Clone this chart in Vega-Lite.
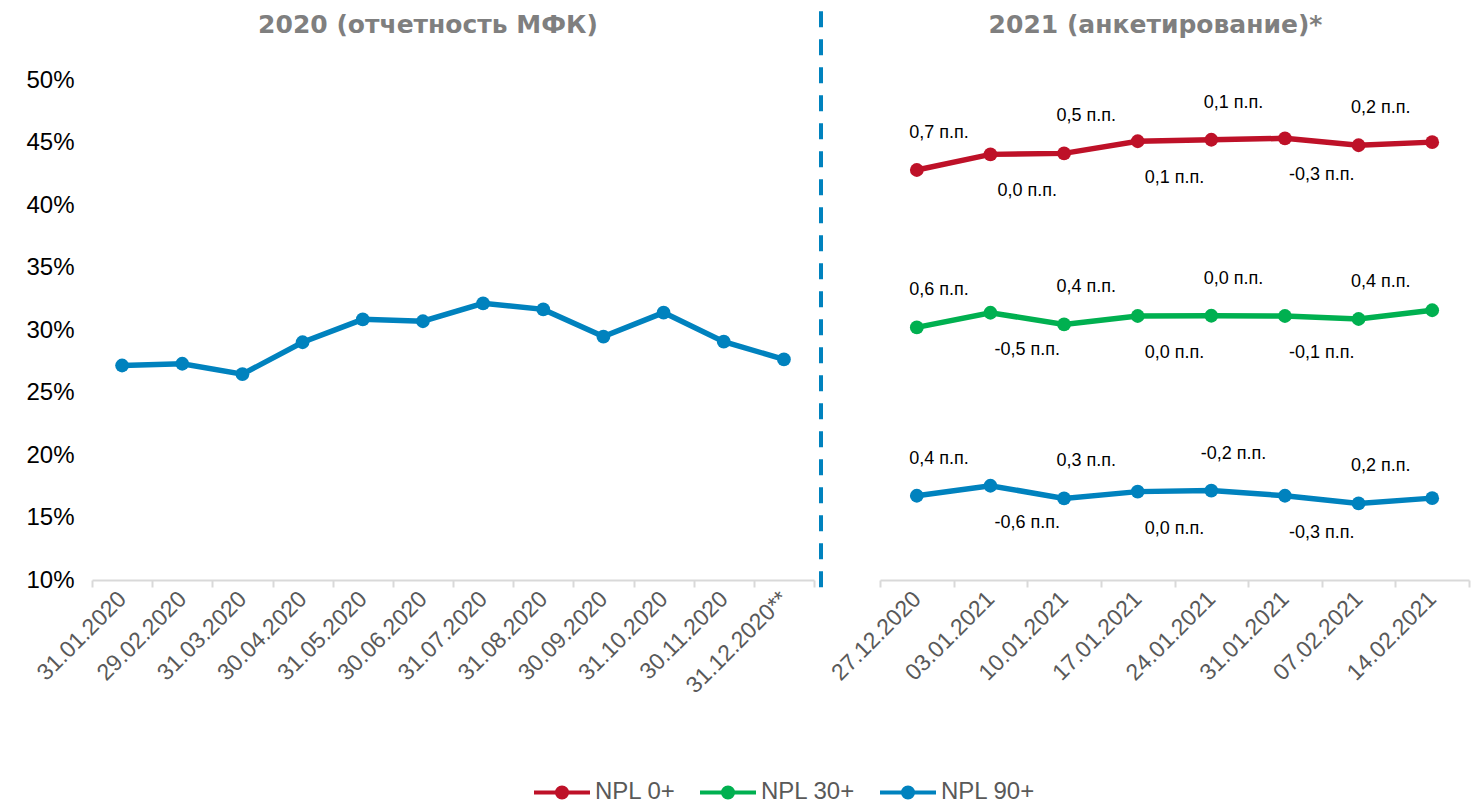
{
  "$schema": "https://vega.github.io/schema/vega-lite/v6.json",
  "background": "white",
  "padding": {"left": 25, "top": 9, "right": 3, "bottom": 5},
  "config": {
    "view": {"stroke": null},
    "font": "Liberation Sans",
    "axis": {"grid": false, "title": null},
    "concat": {"spacing": 4},
    "title": {"fontSize": 25, "fontWeight": "bold", "color": "#7f7f7f", "font": "DejaVu Sans", "anchor": "middle", "baseline": "alphabetic"}
  },
  "datasets": {
    "y2020": [
      {"d": "31.01.2020", "s": "NPL 90+", "v": 0.2716},
      {"d": "29.02.2020", "s": "NPL 90+", "v": 0.2730},
      {"d": "31.03.2020", "s": "NPL 90+", "v": 0.2647},
      {"d": "30.04.2020", "s": "NPL 90+", "v": 0.2902},
      {"d": "31.05.2020", "s": "NPL 90+", "v": 0.3085},
      {"d": "30.06.2020", "s": "NPL 90+", "v": 0.3070},
      {"d": "31.07.2020", "s": "NPL 90+", "v": 0.3213},
      {"d": "31.08.2020", "s": "NPL 90+", "v": 0.3165},
      {"d": "30.09.2020", "s": "NPL 90+", "v": 0.2947},
      {"d": "31.10.2020", "s": "NPL 90+", "v": 0.3139},
      {"d": "30.11.2020", "s": "NPL 90+", "v": 0.2907},
      {"d": "31.12.2020**", "s": "NPL 90+", "v": 0.2765}
    ],
    "y2021": [
      {"d": "27.12.2020", "s": "NPL 0+", "v": 0.4280, "chg": "0,7 п.п.", "side": "above"},
      {"d": "03.01.2021", "s": "NPL 0+", "v": 0.4405, "chg": "0,0 п.п.", "side": "below"},
      {"d": "10.01.2021", "s": "NPL 0+", "v": 0.4413, "chg": "0,5 п.п.", "side": "above"},
      {"d": "17.01.2021", "s": "NPL 0+", "v": 0.4510, "chg": "0,1 п.п.", "side": "below"},
      {"d": "24.01.2021", "s": "NPL 0+", "v": 0.4522, "chg": "0,1 п.п.", "side": "above"},
      {"d": "31.01.2021", "s": "NPL 0+", "v": 0.4533, "chg": "-0,3 п.п.", "side": "below"},
      {"d": "07.02.2021", "s": "NPL 0+", "v": 0.4478, "chg": "0,2 п.п.", "side": "above"},
      {"d": "14.02.2021", "s": "NPL 0+", "v": 0.4503, "chg": "", "side": "none"},
      {"d": "27.12.2020", "s": "NPL 30+", "v": 0.3021, "chg": "0,6 п.п.", "side": "above"},
      {"d": "03.01.2021", "s": "NPL 30+", "v": 0.3138, "chg": "-0,5 п.п.", "side": "below"},
      {"d": "10.01.2021", "s": "NPL 30+", "v": 0.3045, "chg": "0,4 п.п.", "side": "above"},
      {"d": "17.01.2021", "s": "NPL 30+", "v": 0.3112, "chg": "0,0 п.п.", "side": "below"},
      {"d": "24.01.2021", "s": "NPL 30+", "v": 0.3114, "chg": "0,0 п.п.", "side": "above"},
      {"d": "31.01.2021", "s": "NPL 30+", "v": 0.3112, "chg": "-0,1 п.п.", "side": "below"},
      {"d": "07.02.2021", "s": "NPL 30+", "v": 0.3088, "chg": "0,4 п.п.", "side": "above"},
      {"d": "14.02.2021", "s": "NPL 30+", "v": 0.3158, "chg": "", "side": "none"},
      {"d": "27.12.2020", "s": "NPL 90+", "v": 0.1674, "chg": "0,4 п.п.", "side": "above"},
      {"d": "03.01.2021", "s": "NPL 90+", "v": 0.1754, "chg": "-0,6 п.п.", "side": "below"},
      {"d": "10.01.2021", "s": "NPL 90+", "v": 0.1653, "chg": "0,3 п.п.", "side": "above"},
      {"d": "17.01.2021", "s": "NPL 90+", "v": 0.1707, "chg": "0,0 п.п.", "side": "below"},
      {"d": "24.01.2021", "s": "NPL 90+", "v": 0.1715, "chg": "-0,2 п.п.", "side": "above"},
      {"d": "31.01.2021", "s": "NPL 90+", "v": 0.1674, "chg": "-0,3 п.п.", "side": "below"},
      {"d": "07.02.2021", "s": "NPL 90+", "v": 0.1613, "chg": "0,2 п.п.", "side": "above"},
      {"d": "14.02.2021", "s": "NPL 90+", "v": 0.1655, "chg": "", "side": "none"}
    ]
  },
  "resolve": {"scale": {"x": "independent", "y": "independent", "color": "shared"}},
  "hconcat": [
    {
      "width": 722,
      "height": 500,
      "title": {"text": "2020 (отчетность МФК)", "dx": -25, "offset": 30},
      "data": {"name": "y2020"},
      "encoding": {
        "x": {
          "field": "d", "type": "nominal", "sort": null, "bandPosition": 0.5,
          "scale": {"type": "band", "paddingInner": 0, "paddingOuter": 0},
          "axis": {"labelAngle": -45, "labelAlign": "right", "labelBaseline": "middle", "labelFontSize": 23, "labelColor": "#595959", "labelPadding": 8, "labelOverlap": false, "domainColor": "#d9d9d9", "domainWidth": 2, "tickColor": "#d9d9d9", "tickWidth": 2, "tickSize": 7, "tickBand": "extent"}
        },
        "y": {
          "field": "v", "type": "quantitative",
          "scale": {"domain": [0.1, 0.5], "nice": false, "zero": false},
          "axis": {"values": [0.1, 0.15, 0.2, 0.25, 0.3, 0.35, 0.4, 0.45, 0.5], "format": ".0%", "labelFontSize": 24, "labelColor": "#000000", "ticks": false, "domain": false, "labelPadding": 18}
        }
      },
      "layer": [
        {
          "mark": {"type": "line", "strokeWidth": 5.5},
          "encoding": {
            "color": {
              "field": "s", "type": "nominal",
              "scale": {"domain": ["NPL 0+", "NPL 30+", "NPL 90+"], "range": ["#BE1128", "#00B050", "#0082BE"]},
              "legend": {
                "orient": "none", "legendX": 440, "legendY": 682, "direction": "horizontal", "title": null,
                "labelFontSize": 24, "labelColor": "#595959", "labelFont": "Liberation Sans", "labelOffset": 3,
                "columnPadding": 16,
                "symbolType": "M-1,0H1M-0.18,0A0.18,0.18,0,1,0,0.18,0A0.18,0.18,0,1,0,-0.18,0Z",
                "symbolSize": 3136, "symbolStrokeWidth": 4,
                "encode": {"symbols": {"update": {"fill": {"scale": "color", "field": "value"}, "stroke": {"scale": "color", "field": "value"}, "opacity": {"value": 1}}}}
              }
            }
          }
        },
        {
          "mark": {"type": "point", "filled": true, "size": 190, "opacity": 1},
          "encoding": {"color": {"field": "s", "type": "nominal"}}
        }
      ]
    },
    {
      "width": 4,
      "height": 500,
      "data": {"values": [{}]},
      "mark": {"type": "rule", "strokeDash": [16, 12], "strokeWidth": 4, "color": "#0082BE"},
      "encoding": {
        "x": {"datum": 0.5, "type": "quantitative", "scale": {"domain": [0, 1]}, "axis": null},
        "y": {"datum": 0.555, "type": "quantitative", "scale": {"domain": [0.1, 0.5], "nice": false, "zero": false, "clamp": false}, "axis": null},
        "y2": {"datum": 0.091}
      }
    },
    {
      "width": 589,
      "height": 500,
      "title": {"text": "2021 (анкетирование)*", "dx": -19, "offset": 42},
      "data": {"name": "y2021"},
      "encoding": {
        "x": {
          "field": "d", "type": "nominal", "sort": null, "bandPosition": 0.5,
          "scale": {"type": "band", "paddingInner": 0, "paddingOuter": 0},
          "axis": {"labelAngle": -45, "labelAlign": "right", "labelBaseline": "middle", "labelFontSize": 23, "labelColor": "#595959", "labelPadding": 8, "labelOverlap": false, "domainColor": "#d9d9d9", "domainWidth": 2, "tickColor": "#d9d9d9", "tickWidth": 2, "tickSize": 7, "tickBand": "extent"}
        },
        "y": {
          "field": "v", "type": "quantitative",
          "scale": {"domain": [0.1, 0.5], "nice": false, "zero": false},
          "axis": null
        }
      },
      "layer": [
        {
          "mark": {"type": "line", "strokeWidth": 5.5},
          "encoding": {"color": {"field": "s", "type": "nominal"}}
        },
        {
          "mark": {"type": "point", "filled": true, "size": 190, "opacity": 1},
          "encoding": {"color": {"field": "s", "type": "nominal"}}
        },
        {
          "transform": [{"filter": "datum.side === 'above'"}],
          "mark": {"type": "text", "fontSize": 18, "color": "#000000", "dy": -37, "baseline": "middle", "align": "center"},
          "encoding": {
            "x": {"field": "d", "type": "nominal", "sort": null, "bandPosition": 0.8},
            "text": {"field": "chg"}
          }
        },
        {
          "transform": [{"filter": "datum.side === 'below'"}],
          "mark": {"type": "text", "fontSize": 18, "color": "#000000", "dy": 37, "baseline": "middle", "align": "center"},
          "encoding": {
            "x": {"field": "d", "type": "nominal", "sort": null, "bandPosition": 1},
            "text": {"field": "chg"}
          }
        }
      ]
    }
  ]
}
